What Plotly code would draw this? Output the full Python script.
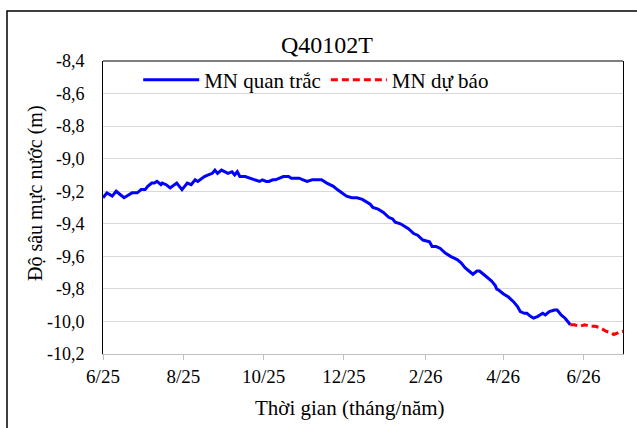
import plotly.graph_objects as go

obs_dates = [
    "2025-06-01", "2025-06-04", "2025-06-08", "2025-06-11", "2025-06-14", "2025-06-17",
    "2025-06-21", "2025-06-23", "2025-06-27", "2025-06-30", "2025-07-03", "2025-07-05",
    "2025-07-08", "2025-07-10", "2025-07-12", "2025-07-15", "2025-07-16", "2025-07-19",
    "2025-07-22", "2025-07-25", "2025-07-27", "2025-07-29", "2025-07-31", "2025-08-02",
    "2025-08-04", "2025-08-07", "2025-08-10", "2025-08-12", "2025-08-15", "2025-08-17",
    "2025-08-20", "2025-08-23", "2025-08-25", "2025-08-27", "2025-08-30", "2025-09-02",
    "2025-09-04", "2025-09-07", "2025-09-09", "2025-09-11", "2025-09-13", "2025-09-17",
    "2025-09-21", "2025-09-24", "2025-09-28", "2025-09-30", "2025-10-03", "2025-10-05",
    "2025-10-08", "2025-10-10", "2025-10-13", "2025-10-16", "2025-10-20", "2025-10-22",
    "2025-10-25", "2025-10-28", "2025-10-31", "2025-11-03", "2025-11-07", "2025-11-10",
    "2025-11-14", "2025-11-18", "2025-11-21", "2025-11-23", "2025-11-26", "2025-11-28",
    "2025-12-01", "2025-12-03", "2025-12-07", "2025-12-11", "2025-12-15", "2025-12-17",
    "2025-12-21", "2025-12-23", "2025-12-27", "2025-12-31", "2026-01-04", "2026-01-07",
    "2026-01-09", "2026-01-13", "2026-01-15", "2026-01-19", "2026-01-23", "2026-01-26",
    "2026-01-30", "2026-02-04", "2026-02-06", "2026-02-09", "2026-02-12", "2026-02-16",
    "2026-02-20", "2026-02-23", "2026-02-25", "2026-02-28", "2026-03-03", "2026-03-06",
    "2026-03-09", "2026-03-12", "2026-03-14", "2026-03-17", "2026-03-20", "2026-03-23",
    "2026-03-26", "2026-03-27", "2026-03-29", "2026-04-01", "2026-04-05", "2026-04-09",
    "2026-04-12", "2026-04-14", "2026-04-17", "2026-04-19", "2026-04-22", "2026-04-24",
    "2026-04-27", "2026-04-29", "2026-05-01", "2026-05-03", "2026-05-06", "2026-05-10",
    "2026-05-12", "2026-05-15", "2026-05-18", "2026-05-20", "2026-05-22",
]
obs_values = [
    -9.24, -9.21, -9.23, -9.20, -9.22, -9.24,
    -9.22, -9.21, -9.21, -9.19, -9.19, -9.17,
    -9.15, -9.15, -9.14, -9.16, -9.15, -9.16,
    -9.18, -9.16, -9.15, -9.17, -9.19, -9.17,
    -9.15, -9.16, -9.13, -9.14, -9.12, -9.11,
    -9.10, -9.09, -9.07, -9.09, -9.07, -9.08,
    -9.09, -9.08, -9.10, -9.08, -9.11, -9.11,
    -9.12, -9.13, -9.14, -9.13, -9.14, -9.14,
    -9.13, -9.13, -9.12, -9.11, -9.11, -9.12,
    -9.12, -9.12, -9.13, -9.14, -9.13, -9.13,
    -9.13, -9.15, -9.16, -9.17, -9.19, -9.20,
    -9.22, -9.23, -9.24, -9.24, -9.25, -9.26,
    -9.28, -9.30, -9.31, -9.33, -9.36, -9.37,
    -9.39, -9.40, -9.41, -9.43, -9.46, -9.47,
    -9.50, -9.51, -9.54, -9.54, -9.55, -9.58,
    -9.60, -9.61, -9.62, -9.64, -9.67, -9.69,
    -9.71, -9.69, -9.69, -9.71, -9.73, -9.75,
    -9.78, -9.80, -9.81, -9.83, -9.85, -9.88,
    -9.91, -9.94, -9.95, -9.95, -9.97, -9.98,
    -9.97, -9.96, -9.95, -9.96, -9.94, -9.93,
    -9.93, -9.96, -9.98, -10.00, -10.02,
]

fc_dates = [
    "2026-05-22", "2026-05-25", "2026-05-29", "2026-06-02", "2026-06-06", "2026-06-10",
    "2026-06-14", "2026-06-18", "2026-06-22", "2026-06-24", "2026-06-27", "2026-06-29",
    "2026-07-01",
]
fc_values = [
    -10.02, -10.02, -10.03, -10.02, -10.03, -10.03,
    -10.04, -10.06, -10.07, -10.08, -10.07, -10.06,
    -10.06,
]

y_tick_values = [-8.4, -8.6, -8.8, -9.0, -9.2, -9.4, -9.6, -9.8, -10.0, -10.2]
y_tick_labels = ["-8,4", "-8,6", "-8,8", "-9,0", "-9,2", "-9,4", "-9,6", "-9,8", "-10,0", "-10,2"]

title_text = "Q40102T"
series_names = ["MN quan trắc", "MN dự báo"]
y_title = "Độ sâu mực nước (m)"
x_title = "Thời gian (tháng/năm)"

FONT = "Times New Roman"

fig = go.Figure()
fig.add_trace(go.Scatter(
    x=obs_dates, y=obs_values, mode="lines", name=series_names[0],
    line=dict(color="#0000ff", width=3),
))
fig.add_trace(go.Scatter(
    x=fc_dates, y=fc_values, mode="lines", name=series_names[1],
    line=dict(color="#ff0000", width=3, dash="7px,4px"),
))

fig.update_layout(
    width=637, height=428,
    margin=dict(l=103, r=14, t=61, b=74, autoexpand=False),
    paper_bgcolor="white", plot_bgcolor="white",
    title=dict(text=title_text, x=327 / 637, xref="container", xanchor="center",
               y=1 - 45 / 428, yref="container", yanchor="middle",
               font=dict(size=24, family=FONT, color="black")),
    showlegend=True,
    legend=dict(orientation="h", x=0.41, y=0.935, xanchor="center", yanchor="middle",
                bgcolor="rgba(0,0,0,0)", font=dict(size=21, family=FONT, color="black"),
                itemwidth=56),
    xaxis=dict(
        type="date", range=["2025-06-01", "2026-07-01"],
        tick0="2025-06-01", dtick="M2", tickformat="%-m/%y",
        showgrid=False, showline=True, linecolor="#bfbfbf", linewidth=1,
        ticks="outside", ticklen=5, tickcolor="#bfbfbf",
        tickfont=dict(size=19, family=FONT, color="black"),
        zeroline=False, automargin=False,
    ),
    yaxis=dict(
        range=[-10.2, -8.4], tickmode="array",
        tickvals=y_tick_values, ticktext=y_tick_labels,
        showgrid=True, gridcolor="#d9d9d9", gridwidth=1,
        showline=True, linecolor="black", linewidth=1, mirror=True,
        ticks="", ticklabelstandoff=14,
        tickfont=dict(size=18, family=FONT, color="black"),
        zeroline=False, automargin=False,
    ),
)

# axis titles
fig.add_annotation(text=x_title, xref="paper", yref="paper",
                   x=(350 - 103) / 520, y=(354 - 408) / 293,
                   xanchor="center", yanchor="middle", showarrow=False,
                   font=dict(size=21, family=FONT, color="black"))
fig.add_annotation(text=y_title, xref="paper", yref="paper",
                   x=(35 - 103) / 520, y=(354 - 193) / 293, textangle=-90,
                   xanchor="center", yanchor="middle", showarrow=False,
                   font=dict(size=20, family=FONT, color="black"))

# top border of plot area
fig.add_shape(type="line", xref="paper", yref="paper", x0=0, x1=1, y0=1, y1=1,
              line=dict(color="black", width=1))
# outer chart frame (extends past right/bottom edges)
fig.add_shape(type="rect", xref="paper", yref="paper",
              x0=(7 - 103) / 520, x1=(645 - 103) / 520,
              y0=(354 - 440) / 293, y1=(354 - 11) / 293,
              line=dict(color="black", width=1.5), fillcolor="rgba(0,0,0,0)")

fig.write_html("out.html", config={"displayModeBar": False},
               post_script="document.body.style.margin='0px';")
